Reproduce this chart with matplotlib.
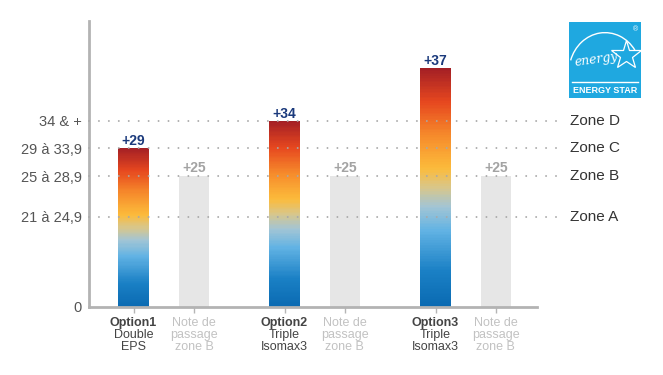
import matplotlib.pyplot as plt
import numpy as np
from matplotlib.colors import LinearSegmentedColormap
from matplotlib.patches import Rectangle, Arc

plt.rcParams['font.family'] = ['Liberation Sans', 'DejaVu Sans']

# data
options = ["Option1", "Option2", "Option3"]
option_lines = [["Double", "EPS"], ["Triple", "Isomax3"], ["Triple", "Isomax3"]]
option_values = [29, 34, 37]
passing_values = [25, 25, 25]
passing_lines = ["Note de", "passage", "zone B"]
zone_values = [21, 25, 29, 34]
zone_names = ["Zone A", "Zone B", "Zone C", "Zone D"]
range_labels = ["21 à 24,9", "25 à 28,9", "29 à 33,9", "34 & +"]

# schematic (non linear) vertical scale of the original chart
knots_val = [0, 21, 25, 29, 34, 37, 40]
knots_pos = [0, 90, 131, 159, 186, 239, 286]


def fwd(v):
    return np.interp(v, knots_val, knots_pos)


def inv(p):
    return np.interp(p, knots_pos, knots_val)


cmap = LinearSegmentedColormap.from_list("heat", [
    (0.0, "#0a6ab2"), (0.15, "#1a80c5"), (0.32, "#62b3e4"), (0.42, "#a3c5d4"),
    (0.50, "#d8c68a"), (0.58, "#fcbb3b"), (0.72, "#f68a2b"), (0.86, "#e6471f"),
    (1.0, "#a31f25")])

fig = plt.figure(figsize=(6.63, 3.75), dpi=100)
ax = fig.add_axes([89/663, 1-307/375, 448/663, 286/375])
ax.set_yscale('function', functions=(fwd, inv))

group_x = np.arange(len(options))
opt_x = group_x
pass_x = group_x + 0.4
w = 0.2

# gradient bars, sliced evenly on screen
n = 150
for x, h in zip(opt_x, option_values):
    edges = inv(np.linspace(0, fwd(h), n + 1))
    mids = (np.arange(n) + 0.5) / n
    ax.bar([x]*n, np.diff(edges), bottom=edges[:-1], width=w,
           color=cmap(mids), linewidth=0, antialiased=False, zorder=2)
    ax.annotate(f"+{h}", (x, h), xytext=(0, 2), textcoords='offset points',
                ha='center', va='baseline', fontsize=10, fontweight='bold',
                color='#1b3a7c')

ax.bar(pass_x, passing_values, width=w, color='#e6e6e6', linewidth=0, zorder=2)
for x, h in zip(pass_x, passing_values):
    ax.annotate(f"+{h}", (x, h), xytext=(0, 3), textcoords='offset points',
                ha='center', va='baseline', fontsize=10, fontweight='bold',
                color='#a3a3a3')

# zone lines
ytr = ax.get_yaxis_transform()
for v, name in zip(zone_values, zone_names):
    ax.plot([0, 1.063], [v, v], transform=ytr, clip_on=False, color='#a8a8a8',
            lw=1.4, linestyle=(0, (0.01, 5.1)), dash_capstyle='round', zorder=3)
    ax.text(1.074, v, name, transform=ytr, ha='left', va='center',
            fontsize=11, color='#333333')

ax.set_xlim(-0.295, 2.672)
ax.set_ylim(0, 40)
ax.set_yticks([0] + zone_values)
ax.set_yticklabels(["0"] + range_labels, fontsize=10.5, color='#555555')
ax.tick_params(axis='y', length=0, pad=5)
ax.set_xticks(np.concatenate([opt_x, pass_x]))
ax.set_xticklabels([])
ax.tick_params(axis='x', length=4, width=1, color='#b5b5b5', direction='out')
for s in ['top', 'right']:
    ax.spines[s].set_visible(False)
for s in ['left', 'bottom']:
    ax.spines[s].set_color('#b3b3b3')
    ax.spines[s].set_linewidth(2)

# category labels
for x, name, lines in zip(opt_x, options, option_lines):
    ax.annotate(name, (x, 0), xycoords=('data', 'axes fraction'), xytext=(0, -13.7),
                textcoords='offset points', ha='center', va='baseline',
                fontsize=9, fontweight='bold', color='#444444')
    for i, t in enumerate(lines):
        ax.annotate(t, (x, 0), xycoords=('data', 'axes fraction'),
                    xytext=(0, -22.4 - 8.6*i), textcoords='offset points',
                    ha='center', va='baseline', fontsize=9, color='#444444')
for x in pass_x:
    for i, t in enumerate(passing_lines):
        ax.annotate(t, (x, 0), xycoords=('data', 'axes fraction'),
                    xytext=(0, -13.7 - 8.6*i), textcoords='offset points',
                    ha='center', va='baseline', fontsize=9, color='#c2c2c2')

# ENERGY STAR logo
lg = fig.add_axes([569/663, 1-98/375, 72/663, 76/375])
lg.set_xlim(0, 1)
lg.set_ylim(0, 1)
lg.axis('off')
lg.add_patch(Rectangle((0, 0), 1, 1, color='#1fa8e0'))
lg.plot([0.04, 0.96], [0.21, 0.21], color='white', lw=1)
lg.text(0.5, 0.1, "ENERGY STAR", ha='center', va='center', color='white',
        fontsize=6.5, fontweight='bold')
lg.add_patch(Arc((0.5, 0.34), 1.0, 1.04, theta1=35, theta2=162, color='white', lw=1))
lg.text(0.38, 0.5, "energy", ha='center', va='center', color='white', fontsize=9,
        style='italic', family='DejaVu Serif', rotation=8)
lg.plot([0.79], [0.56], marker='*', ms=22, mfc='none', mec='white', mew=0.9)
lg.text(0.92, 0.9, "®", ha='center', va='center', color='white', fontsize=5)

fig.savefig("out.png", dpi=100)
